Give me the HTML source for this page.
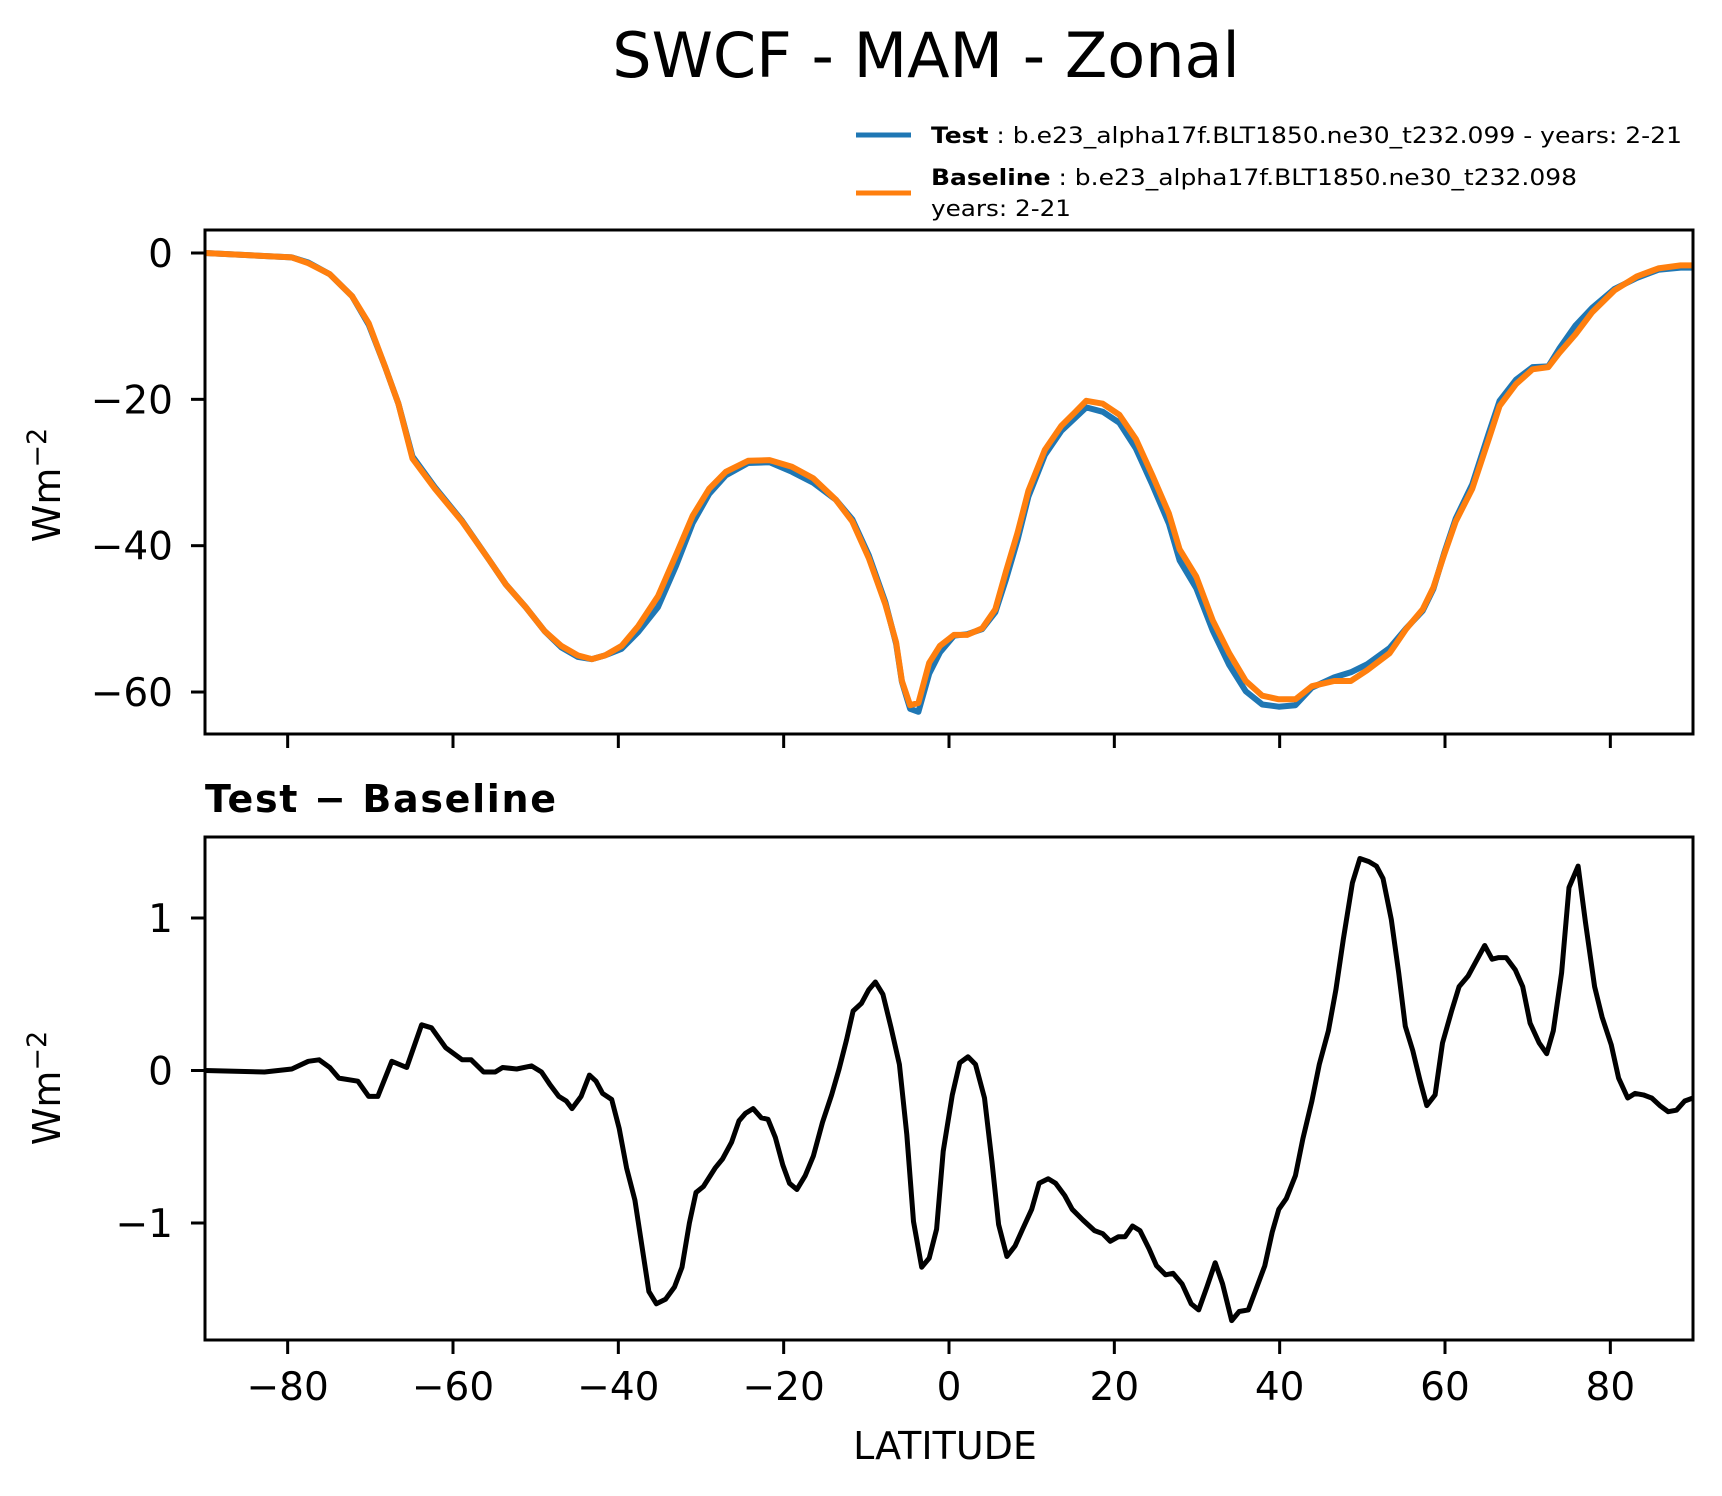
<!DOCTYPE html>
<html><head><meta charset="utf-8"><style>
html,body{margin:0;padding:0;background:#fff}
svg{display:block;font-family:"DejaVu Sans","Liberation Sans",sans-serif}
</style></head><body>
<svg id="chart" width="1722" height="1496" viewBox="0 0 1722 1496">
<text x="926" y="77" font-size="62" text-anchor="middle">SWCF - MAM - Zonal</text>
<g>
<line x1="856" y1="135" x2="911" y2="135" stroke="#1f77b4" stroke-width="5"/>
<text x="931" y="143" font-size="22" textLength="751" lengthAdjust="spacingAndGlyphs"><tspan font-weight="bold">Test</tspan> : b.e23_alpha17f.BLT1850.ne30_t232.099 - years: 2-21</text>
<line x1="856" y1="193" x2="911" y2="193" stroke="#ff7f0e" stroke-width="5"/>
<text x="931" y="185" font-size="22" textLength="646" lengthAdjust="spacingAndGlyphs"><tspan font-weight="bold">Baseline</tspan> : b.e23_alpha17f.BLT1850.ne30_t232.098</text>
<text x="931" y="216" font-size="22" textLength="140" lengthAdjust="spacingAndGlyphs">years: 2-21</text>
</g>
<g id="top"></g>
<g id="bot"></g>
<text x="205" y="812" font-size="38" font-weight="bold" textLength="351" lengthAdjust="spacing">Test − Baseline</text>
<text x="945" y="1459" font-size="38" text-anchor="middle">LATITUDE</text>
<text transform="translate(60,485) rotate(-90)" font-size="38" text-anchor="middle">Wm<tspan dy="-14" font-size="27">−2</tspan></text>
<text transform="translate(60,1088) rotate(-90)" font-size="38" text-anchor="middle">Wm<tspan dy="-14" font-size="27">−2</tspan></text>
</svg>
<script>
const latTop = [-90,-79.5,-77.5,-74.9,-72.2,-70.2,-68.2,-66.6,-64.9,-62.2,-58.9,-55.6,-53.6,-51.2,-48.9,-46.9,-44.9,-43.2,-41.6,-39.6,-37.6,-35.2,-33,-31,-29,-27,-24.3,-21.7,-19,-16.4,-13.7,-11.7,-9.7,-7.7,-6.4,-5.7,-4.7,-3.7,-2.4,-1.1,0.6,2.2,4,5.6,6.9,8.3,9.6,11.6,13.6,15.3,16.6,18.6,20.6,22.6,24.6,26.6,27.9,29.9,31.9,33.9,35.9,37.9,39.9,41.9,43.9,46.6,48.6,50.6,53.3,55.3,57.3,58.6,59.9,61.3,63.3,65.3,66.6,68.6,70.6,72.5,73.8,75.8,77.8,80.5,83.2,85.8,88.5,90];
const baseVals = [0,-0.6,-1.4,-2.9,-5.9,-9.6,-15.6,-20.6,-28.1,-32.2,-36.7,-42,-45.3,-48.4,-51.7,-53.7,-55,-55.5,-55,-53.7,-51,-46.9,-41.2,-35.9,-32.2,-29.9,-28.4,-28.3,-29.2,-30.8,-33.7,-36.7,-41.7,-48,-53.2,-58.5,-61.8,-61.5,-56,-53.7,-52.2,-52.2,-51.3,-48.7,-43.5,-38.2,-32.5,-26.9,-23.6,-21.7,-20.2,-20.6,-22.1,-25.4,-30.4,-35.6,-40.5,-44.2,-50.2,-54.7,-58.5,-60.5,-61,-61,-59.2,-58.5,-58.5,-57,-54.7,-51.4,-48.7,-45.7,-41.2,-36.7,-32.2,-25.4,-20.9,-17.9,-15.9,-15.6,-13.7,-11.1,-8.1,-5.1,-3.2,-2.1,-1.7,-1.7];
const testVals = [0,-0.6,-1.3,-2.9,-5.9,-9.8,-15.6,-20.6,-27.8,-32,-36.6,-42,-45.3,-48.4,-51.7,-53.9,-55.2,-55.5,-55,-54.1,-51.8,-48.4,-42.7,-36.9,-32.9,-30.4,-28.7,-28.6,-29.9,-31.4,-33.7,-36.4,-41.3,-47.7,-53.4,-58.6,-62.3,-62.7,-57.5,-54.6,-52.3,-52.1,-51.4,-49.1,-44.6,-39.2,-33.3,-27.6,-24.3,-22.5,-21.1,-21.7,-23.2,-26.7,-31.7,-37,-42,-45.8,-51.6,-56.3,-59.9,-61.7,-62,-61.8,-59.4,-58,-57.3,-56.2,-54,-51.3,-48.9,-45.9,-41,-36.3,-31.6,-24.6,-20.2,-17.3,-15.6,-15.5,-13.1,-9.9,-7.5,-4.9,-3.4,-2.3,-2,-2];
const latDiff = [-90,-82.8,-79.5,-77.5,-76.2,-74.9,-73.8,-71.5,-70.2,-69.1,-67.4,-65.6,-63.8,-62.6,-60.9,-58.9,-57.8,-56.3,-54.9,-54,-52.3,-50.5,-49.3,-48.3,-47.2,-46.3,-45.6,-44.5,-43.5,-42.7,-41.9,-40.8,-39.9,-39,-38,-36.3,-35.4,-34.3,-33.2,-32.3,-31.4,-30.6,-29.7,-28.3,-27.4,-26.3,-25.4,-24.6,-23.7,-22.7,-21.9,-21,-20.1,-19.3,-18.4,-17.4,-16.4,-15.3,-14.2,-13.3,-12.4,-11.6,-10.6,-9.7,-8.9,-8,-7,-6,-5.1,-4.3,-3.3,-2.4,-1.5,-0.7,0.4,1.3,2.3,3.2,4.3,5.2,6,7,8,8.9,10,10.9,12,12.9,14,14.9,16.2,17.6,18.6,19.5,20.5,21.3,22.2,23.1,24.2,25.1,26.2,27.1,28.2,29.3,30.2,31.2,32.2,33.1,34.2,35.1,36.2,37.1,38.2,39.1,39.9,40.8,41.9,42.8,43.9,44.8,45.9,46.8,47.7,48.8,49.7,50.8,51.7,52.5,53.5,54.4,55.2,56.1,57,57.8,58.8,59.7,60.8,61.7,62.8,63.7,64.8,65.7,66.5,67.4,68.5,69.4,70.3,71.4,72.3,73.1,74.1,75,76.1,77,78.1,79,80.1,81,82.1,83,84,85,86,87,88,89,90];
const diffVals = [0,-0.01,0.01,0.06,0.07,0.02,-0.05,-0.07,-0.17,-0.17,0.06,0.02,0.3,0.28,0.15,0.07,0.07,-0.01,-0.01,0.02,0.01,0.03,-0.01,-0.09,-0.17,-0.2,-0.25,-0.17,-0.03,-0.07,-0.15,-0.19,-0.38,-0.64,-0.85,-1.45,-1.53,-1.5,-1.42,-1.29,-1,-0.8,-0.76,-0.64,-0.58,-0.47,-0.33,-0.28,-0.25,-0.31,-0.32,-0.44,-0.62,-0.74,-0.78,-0.69,-0.56,-0.34,-0.16,0.01,0.2,0.39,0.44,0.53,0.58,0.5,0.28,0.04,-0.42,-0.99,-1.29,-1.23,-1.04,-0.53,-0.16,0.05,0.09,0.04,-0.18,-0.6,-1.01,-1.22,-1.15,-1.04,-0.91,-0.74,-0.71,-0.74,-0.82,-0.91,-0.98,-1.05,-1.07,-1.12,-1.09,-1.09,-1.02,-1.05,-1.17,-1.28,-1.34,-1.33,-1.4,-1.53,-1.57,-1.42,-1.26,-1.4,-1.64,-1.58,-1.57,-1.44,-1.28,-1.06,-0.91,-0.84,-0.69,-0.45,-0.2,0.04,0.26,0.53,0.86,1.23,1.39,1.37,1.34,1.26,0.99,0.64,0.29,0.13,-0.07,-0.23,-0.16,0.18,0.39,0.55,0.62,0.71,0.82,0.73,0.74,0.74,0.66,0.55,0.31,0.18,0.11,0.26,0.64,1.2,1.34,0.97,0.55,0.35,0.17,-0.05,-0.18,-0.15,-0.16,-0.18,-0.23,-0.27,-0.26,-0.2,-0.18];
const xTicks = [-80,-60,-40,-20,0,20,40,60,80];
const topTicks = [0,-20,-40,-60];
const botTicks = [1,0,-1];

const NS = 'http://www.w3.org/2000/svg';
const X0 = 205, X1 = 1693;
const xs = v => X0 + (v + 90) / 180 * (X1 - X0);
const yTop = v => 253 - v * 7.317;
const yBot = v => 1070.5 - v * 152.5;
function mk(tag, attrs, parent) { const e = document.createElementNS(NS, tag); for (const k in attrs) e.setAttribute(k, attrs[k]); parent.appendChild(e); return e; }
function fmt(v) { return v < 0 ? '\u2212' + Math.abs(v) : String(v); }

function panel(g, top, bottom, yFn, ticks, showXLabels, name) {
  const clipId = 'clip-' + name;
  const cp = mk('clipPath', {id: clipId}, g);
  mk('rect', {x: X0, y: top, width: X1 - X0, height: bottom - top}, cp);
  const lines = mk('g', {'clip-path': 'url(#' + clipId + ')'}, g);
  for (const t of ticks) {
    const tk = mk('line', {x1: X0 - 14, x2: X0, y1: yFn(t), y2: yFn(t), stroke: '#000', 'stroke-width': 3}, g);
    
    
    const tl = mk('text', {x: 173, y: yFn(t) + 14, 'font-size': 39, 'text-anchor': 'end'}, g);
    tl.textContent = fmt(t);
    
    
  }
  for (const t of xTicks) {
    const tk = mk('line', {x1: xs(t), x2: xs(t), y1: bottom, y2: bottom + 14, stroke: '#000', 'stroke-width': 3}, g);
    
    
    if (showXLabels) {
      const tl = mk('text', {x: xs(t), y: 1400, 'font-size': 39, 'text-anchor': 'middle'}, g);
      tl.textContent = fmt(t);
      
      
    }
  }
  const fr = mk('rect', {x: X0, y: top, width: X1 - X0, height: bottom - top, fill: 'none', stroke: '#000', 'stroke-width': 3}, g);
  
  
  return lines;
}
function path(lats, vals, yFn, color, w, parent) {
  const d = lats.map((la, i) => (i ? 'L' : 'M') + xs(la).toFixed(1) + ',' + yFn(vals[i]).toFixed(1)).join('');
  return mk('path', {d: d, fill: 'none', stroke: color, 'stroke-width': w, 'stroke-linejoin': 'round', 'stroke-linecap': 'round'}, parent);
}
const tl = panel(document.getElementById('top'), 230, 734, yTop, topTicks, false, 'top');
const pTest = path(latTop, testVals, yTop, '#1f77b4', 6, tl);


const pBase = path(latTop, baseVals, yTop, '#ff7f0e', 6, tl);


const bl = panel(document.getElementById('bot'), 837, 1340, yBot, botTicks, true, 'bottom');
const pDiff = path(latDiff, diffVals, yBot, '#000', 5, bl);


</script>
</body></html>
